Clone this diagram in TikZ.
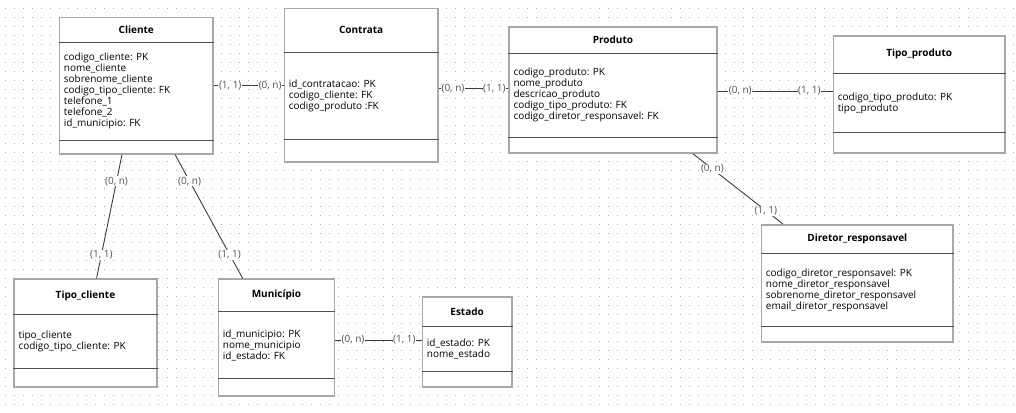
\documentclass[tikz,border=0pt]{standalone}
\usepackage{fontspec}
\setmainfont{Open Sans}
\usetikzlibrary{calc}
\definecolor{lbl}{RGB}{80,80,100}
\definecolor{boxgray}{RGB}{168,168,168}
\definecolor{sepgray}{RGB}{80,80,80}
\definecolor{linegray}{RGB}{60,60,60}
\definecolor{dotc}{RGB}{175,175,175}
\newcommand\erentity[9]{%
  \node[ebox, minimum width=#4pt, minimum height=#5pt] (#1) at (#2,#3) {};
  \draw[sep] ($(#1.north west)+(0,#6)$) -- ($(#1.north east)+(0,#6)$);
  \draw[sep] ($(#1.north west)+(0,#7)$) -- ($(#1.north east)+(0,#7)$);
  \node[ttl] (#1-t) at ($(#1.north)+(0,{#6/2})$) {#8};
  \node[attr] (#1-a) at ($(#1.north west)+(5,{(#6+#7)/2})$) {#9};
}
\begin{document}
\begin{tikzpicture}[x=1pt,y=-1pt,
  ebox/.style={draw=boxgray, line width=1.6pt, fill=white, inner sep=0pt, anchor=north west},
  sep/.style={draw=sepgray, line width=0.9pt},
  ttl/.style={font=\bfseries\fontsize{10}{11}\selectfont, inner sep=0pt},
  attr/.style={font=\fontsize{10}{11}\selectfont, align=left, inner sep=0pt, anchor=west},
  rel/.style={draw=linegray, line width=0.9pt},
  card/.style={font=\fontsize{10}{11}\selectfont, text=lbl, fill=white, inner sep=0.6pt}]
\useasboundingbox (0,0) rectangle (1016,412);
\fill[white] (0,0) rectangle (1016,412);
\foreach \i in {0,...,112}{\foreach \j in {0,...,44}{\fill[dotc] ({5+9*\i},{8+9*\j}) rectangle ++(1,1);}}
% entities
\erentity{cli}{58.7}{16.7}{153.6}{136.3}{25.3}{124}{Cliente}{codigo\_cliente: PK\\nome\_cliente\\sobrenome\_cliente\\codigo\_tipo\_cliente: FK\\telefone\_1\\telefone\_2\\id\_municipio: FK}
\erentity{con}{283.7}{7.7}{153.3}{153.6}{44.3}{131.6}{Contrata}{id\_contratacao: PK\\codigo\_cliente: FK\\codigo\_produto :FK}
\erentity{pro}{508.3}{26}{207.7}{126.3}{27.3}{111.3}{Produto}{codigo\_produto: PK\\nome\_produto\\descricao\_produto\\codigo\_tipo\_produto: FK\\codigo\_diretor\_responsavel: FK}
\erentity{tpr}{832.7}{35}{171.3}{117.3}{38.7}{97.3}{Tipo\_produto}{codigo\_tipo\_produto: PK\\tipo\_produto}
\erentity{tcl}{13.3}{278.3}{142.7}{107.7}{35.7}{90}{Tipo\_cliente}{tipo\_cliente\\codigo\_tipo\_cliente: PK}
\erentity{mun}{217.7}{278.3}{116}{116.7}{33}{100.4}{Município}{id\_municipio: PK\\nome\_municipio\\id\_estado: FK}
\erentity{est}{421.7}{296.3}{89.3}{89.7}{30}{74.7}{Estado}{id\_estado: PK\\nome\_estado}
\erentity{dir}{760.7}{224}{191.6}{117}{29.3}{102.7}{Diretor\_responsavel}{codigo\_diretor\_responsavel: PK\\nome\_diretor\_responsavel\\sobrenome\_diretor\_responsavel\\email\_diretor\_responsavel}
% relationships
\draw[rel] (cli.east) -- (cli.east -| con.west)
  node[card,pos=0.234] (c1) {(1, 1)} node[card,pos=0.806] (c2) {(0, n)};
\draw[rel] ($(con.east)+(0,3.5)$) coordinate (cp1) -- (cp1 -| pro.west)
  node[card,pos=0.206] (c3) {(0, n)} node[card,pos=0.80] (c4) {(1, 1)};
\draw[rel] ($(pro.east)+(0,1.1)$) coordinate (pt1) -- (pt1 -| tpr.west)
  node[card,pos=0.197] (c5) {(0, n)} node[card,pos=0.797] (c6) {(1, 1)};
\draw[rel] ($(mun.east)+(0,2.7)$) coordinate (me1) -- (me1 -| est.west)
  node[card,pos=0.205] (c7) {(0, n)} node[card,pos=0.80] (c8) {(1, 1)};
\draw[rel] ($(cli.south west)!0.408!(cli.south east)$) -- ($(tcl.north west)!0.577!(tcl.north east)$)
  node[card,pos=0.216] (c9) {(0, n)} node[card,pos=0.81] (c10) {(1, 1)};
\draw[rel] ($(cli.south west)!0.75!(cli.south east)$) -- ($(mun.north west)!0.212!(mun.north east)$)
  node[card,pos=0.215] (c11) {(0, n)} node[card,pos=0.808] (c12) {(1, 1)};
\draw[rel] ($(pro.south west)!0.883!(pro.south east)$) -- ($(dir.north west)!0.115!(dir.north east)$)
  node[card,pos=0.215] (c13) {(0, n)} node[card,pos=0.81] (c14) {(1, 1)};
\end{tikzpicture}
\end{document}
